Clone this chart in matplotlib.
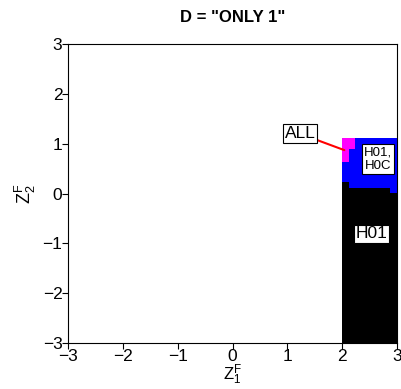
import numpy as np
import matplotlib.pyplot as plt
from matplotlib.colors import ListedColormap

plt.rcParams['font.family'] = ['Liberation Sans', 'DejaVu Sans']
plt.rcParams['mathtext.fontset'] = 'custom'
plt.rcParams['mathtext.rm'] = 'Liberation Sans'
plt.rcParams['mathtext.it'] = 'Liberation Sans:italic'

# region boundaries (data units) and which hypothesis is rejected in each cell
x_edges = [2.0, 2.12, 2.24, 2.88, 3.0]
y_edges = [-3.0, 0.02, 0.12, 0.24, 0.64, 0.89, 1.12, 3.0]
# 0 = none, 1 = H01, 2 = H01,H0C, 3 = ALL
regions = [
    [1, 1, 1, 1],
    [1, 1, 1, 2],
    [1, 2, 2, 2],
    [2, 2, 2, 2],
    [3, 2, 2, 2],
    [3, 3, 2, 2],
    [0, 0, 0, 0],
]
region_colors = ['white', 'black', 'blue', 'magenta']
tick_vals = [-3, -2, -1, 0, 1, 2, 3]
tick_text = ['\u22123', '\u22122', '\u22121', '0', '1', '2', '3']

fig = plt.figure(figsize=(4.01, 3.89), dpi=100)
ax = fig.add_axes([68 / 401, 46 / 389, 329 / 401, 299 / 389])

cmap = ListedColormap(region_colors)
ax.pcolormesh(x_edges, y_edges, np.array(regions), cmap=cmap, vmin=-0.5, vmax=3.5)

ax.set_xlim(-3, 3)
ax.set_ylim(-3, 3)
ax.set_xticks(tick_vals)
ax.set_yticks(tick_vals)
ax.set_xticklabels(tick_text)
ax.set_yticklabels(tick_text)
ax.tick_params(direction='out', length=4, width=0.8, labelsize=12.5, pad=0,
               top=False, right=False)
for s in ax.spines.values():
    s.set_linewidth(0.8)

ax.set_xlabel('$\\mathrm{Z}_1^\\mathrm{F}$', fontsize=12, labelpad=-1)
ax.set_ylabel('$\\mathrm{Z}_2^\\mathrm{F}$', fontsize=13, labelpad=3)
ax.set_title('D = "ONLY 1"', fontsize=12, fontweight='bold', pad=16)

box = dict(boxstyle='square,pad=0.1', fc='white', ec='black', lw=0.8)
ax.annotate('ALL', xy=(2.04, 0.87), xytext=(1.23, 1.2), fontsize=12.5,
            ha='center', va='center', bbox=box,
            arrowprops=dict(arrowstyle='-', color='red', lw=1.5,
                            shrinkA=0, shrinkB=0))
ax.text(2.66, 0.69, 'H01,\nH0C', fontsize=9.5, ha='center', va='center',
        linespacing=1.15, bbox=dict(boxstyle='square,pad=0.15', fc='white', ec='black', lw=0.8))
ax.text(2.53, -0.81, 'H01', fontsize=12.5, ha='center', va='center', bbox=box)

fig.savefig('out.png', dpi=100)
